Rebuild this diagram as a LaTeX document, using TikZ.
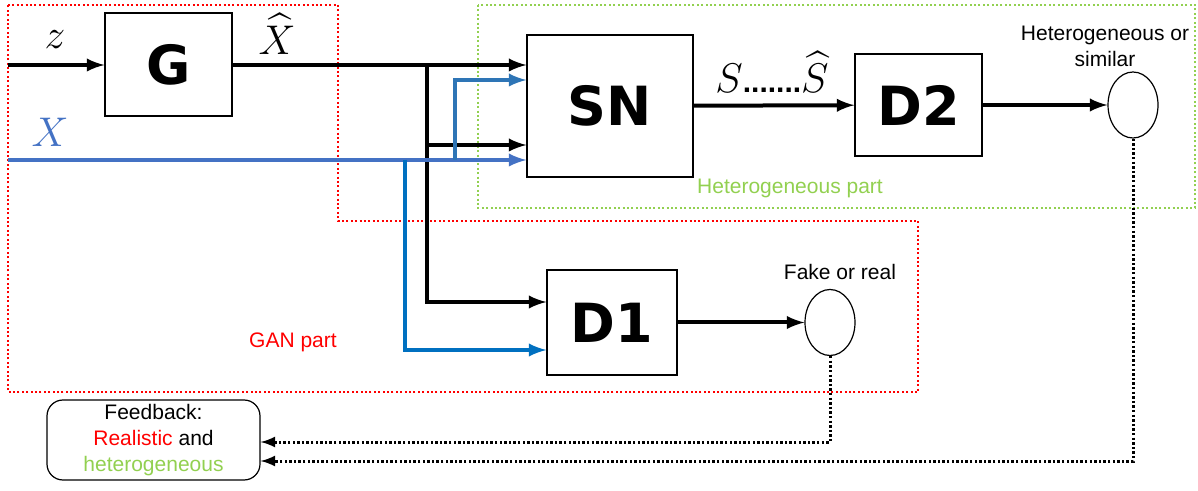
\documentclass[tikz,border=0pt]{standalone}
\usepackage{amsmath}
\usepackage{fontspec}
\setmainfont{Liberation Sans}
\newfontfamily\blockfont{DejaVu Sans}
\usepackage{tikz}
\usetikzlibrary{shapes.geometric, positioning, arrows}
\usepackage{xcolor}
\definecolor{ganred}{HTML}{FF0000}
\definecolor{hetgreen}{HTML}{92D050}
\definecolor{xblue}{HTML}{4472C4}
\definecolor{brblue}{HTML}{2E75B6}
\definecolor{dblue}{HTML}{0070C0}

\begin{document}
\begin{tikzpicture}[x=0.5pt,y=-0.5pt,>=latex,line width=2pt,
    block/.style={draw,line width=0.6pt,inner sep=0pt,font=\blockfont\fontsize{27}{28}\selectfont\bfseries},
    outcircle/.style={draw,ellipse,line width=0.6pt,minimum width=25pt,minimum height=33pt,inner sep=0pt},
    region/.style={line width=1pt,dash pattern=on 1pt off 1.2pt},
    feed/.style={->,line width=1.5pt,dash pattern=on 1.2pt off 1.1pt},
    lbl/.style={font=\fontsize{10.5}{13}\selectfont,align=center},
    mathlbl/.style={font=\fontsize{20}{24}\selectfont,inner sep=1pt}]
      \useasboundingbox (0,0) rectangle (1198,491);

      % regions
      \draw[region,ganred] (8,5) -- (338,5) -- (338,221) -- (918,221) -- (918,392) -- (8,392) -- cycle;
      \draw[region,hetgreen] (478,5) rectangle (1195,208);

      % blocks
      \node[block,minimum width=63.5pt,minimum height=51.5pt] (G) at (168.5,64.5) {G};
      \node[block,minimum width=83pt,minimum height=71pt] (SN) at (610,106) {SN};
      \node[block,minimum width=63.5pt,minimum height=51pt] (D2) at (918.5,105) {D2};
      \node[block,minimum width=65pt,minimum height=52.5pt] (D1) at (612,322.5) {D1};
      \node[outcircle] (c1) at (830,322.5) {};
      \node[outcircle] (c2) at (1133,105) {};
      \node[draw,rounded corners=8pt,line width=0.6pt,lbl,minimum width=106.5pt,minimum height=40pt,inner sep=1pt] (fb) at (153.5,440)
            {Feedback:\\\textcolor{ganred}{Realistic} and\\\textcolor{hetgreen}{heterogeneous}};

      % labels
      \node[mathlbl] (zl) at (55,40) {$z$};
      \node[mathlbl] (xhl) at (277,34) {$\widehat{X}$};
      \node[mathlbl,xblue] (xl) at (50,132) {$X$};
      \node[mathlbl] (sl) at (772,72) {$S${\fontsize{15}{18}\selectfont\textbf{.......}}$\widehat{S}$};
      \node[lbl] (fr) at (840,272) {Fake or real};
      \node[lbl] (hs) at (1105,46) {Heterogeneous or\\similar};
      \node[lbl,hetgreen] (hp) at (790,188) {Heterogeneous part};
      \node[lbl,ganred] (gp) at (293,342) {GAN part};

      % branch points
      \coordinate (zin) at (8,65);
      \coordinate (xin) at (8,160);
      \coordinate (ja) at (427,65);
      \coordinate (jb) at (427,145);
      \coordinate (jc) at (455,160);
      \coordinate (jd) at (405,160);

      % black connectors
      \draw[->] (zin) -- (zin -| G.west);
      \draw[->] (G.east |- zin) -- (zin -| SN.west);
      \draw[->] (ja) |- ([yshift=10.25pt]D1.west);
      \draw[->] (jb) -- (jb -| SN.west);
      \draw[->] (SN) -- (D2);
      \draw[->] (D2) -- (c2);
      \draw[->] (D1) -- (c1);

      % blue connectors
      \draw[->,xblue] (xin) -- (xin -| SN.west);
      \draw[->,brblue] (jc) |- ([yshift=13pt]SN.west);
      \draw[->,dblue] (jd) |- ([yshift=-13.75pt]D1.west);

      % feedback
      \draw[feed] (c1.south) |- ([yshift=-1pt]fb.east);
      \draw[feed] (c2.south) |- ([yshift=-10.5pt]fb.east);
\end{tikzpicture}
\end{document}
